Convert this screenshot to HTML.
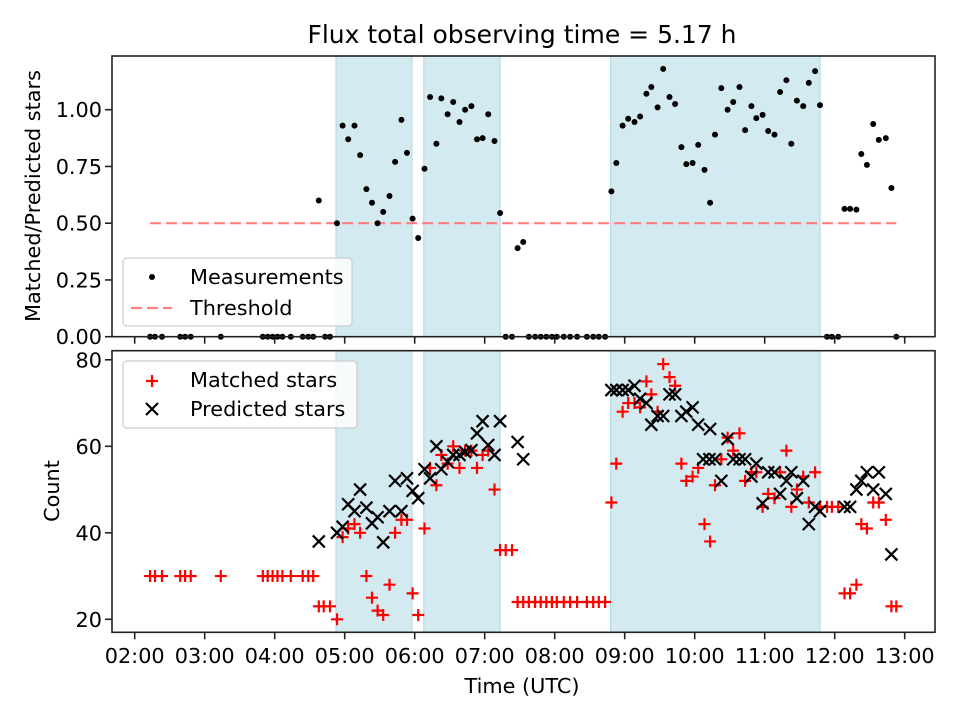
<!DOCTYPE html>
<html><head><meta charset="utf-8"><style>
body{margin:0;background:#fff}
svg{display:block;font-family:"DejaVu Sans","Liberation Sans",sans-serif}
</style></head><body>
<svg id="chart" width="960" height="720" xmlns="http://www.w3.org/2000/svg">
<text x="522" y="43" text-anchor="middle" font-size="25" fill="#000">Flux total observing time = 5.17 h</text>
<g id="topPanel"></g>
<g id="botPanel"></g>
<text x="522" y="693" text-anchor="middle" font-size="20.8">Time (UTC)</text>
<text transform="translate(40,196) rotate(-90)" text-anchor="middle" font-size="20.8">Matched/Predicted stars</text>
<text transform="translate(59,491) rotate(-90)" text-anchor="middle" font-size="20.8">Count</text>
</svg>
<script>
const shadeStart=[4.876,6.13,8.80];
const shadeEnd=[5.96,7.22,11.79];
const zeroTimes=[2.22,2.29,2.39,2.65,2.72,2.80,3.23,3.83,3.90,3.97,4.04,4.11,4.23,4.40,4.48,4.55,4.72,4.79,7.30,7.39,7.63,7.72,7.80,7.88,7.96,8.03,8.13,8.22,8.32,8.46,8.55,8.63,8.72,11.89,11.96,12.05,12.88];
const ratioTimes=[4.63,4.89,4.97,5.05,5.14,5.22,5.31,5.39,5.47,5.55,5.64,5.72,5.81,5.89,5.97,6.05,6.14,6.22,6.31,6.38,6.47,6.55,6.64,6.72,6.81,6.89,6.97,7.05,7.14,7.22,7.47,7.55,8.81,8.88,8.97,9.05,9.14,9.22,9.31,9.38,9.47,9.55,9.64,9.72,9.81,9.88,9.97,10.05,10.14,10.22,10.29,10.38,10.47,10.55,10.64,10.72,10.81,10.88,10.97,11.05,11.14,11.22,11.31,11.38,11.46,11.55,11.63,11.72,11.79,12.14,12.22,12.31,12.38,12.46,12.55,12.63,12.73,12.81];
const ratioValues=[0.60,0.50,0.93,0.87,0.93,0.80,0.65,0.59,0.50,0.55,0.62,0.77,0.955,0.81,0.52,0.435,0.74,1.056,0.85,1.05,0.98,1.034,0.946,1.00,1.016,0.87,0.875,0.98,0.862,0.545,0.39,0.417,0.64,0.765,0.93,0.96,0.946,0.97,1.07,1.10,1.01,1.18,1.056,1.025,0.835,0.76,0.765,0.845,0.735,0.59,0.89,1.095,1.00,1.034,1.10,0.91,1.016,0.963,0.977,0.906,0.89,1.078,1.13,0.85,1.04,1.016,1.118,1.17,1.02,0.563,0.563,0.56,0.805,0.757,0.937,0.867,0.875,0.655];
const threshold=0.5, thrStart=2.22, thrEnd=12.88;
const matchedTimes=[2.22,2.29,2.39,2.65,2.72,2.80,3.23,3.83,3.90,3.97,4.04,4.11,4.23,4.40,4.48,4.55,4.63,4.70,4.79,4.89,4.97,5.05,5.14,5.22,5.31,5.39,5.47,5.55,5.64,5.72,5.81,5.89,5.97,6.05,6.14,6.22,6.31,6.38,6.47,6.55,6.64,6.72,6.81,6.89,6.97,7.05,7.14,7.22,7.30,7.39,7.47,7.55,7.63,7.72,7.80,7.88,7.96,8.03,8.13,8.22,8.32,8.46,8.55,8.63,8.72,8.81,8.88,8.97,9.05,9.14,9.22,9.31,9.38,9.47,9.55,9.64,9.72,9.81,9.88,9.97,10.05,10.14,10.22,10.29,10.38,10.47,10.55,10.64,10.72,10.81,10.88,10.97,11.05,11.14,11.22,11.31,11.38,11.46,11.55,11.63,11.72,11.79,11.89,11.96,12.05,12.14,12.22,12.31,12.38,12.46,12.55,12.63,12.73,12.81,12.88];
const matchedValues=[30,30,30,30,30,30,30,30,30,30,30,30,30,30,30,30,23,23,23,20,39,41,42,40,30,25,22,21,28,40,43,43,26,21,41,55,51,58,56,60,55,59,59,55,58,59,50,36,36,36,24,24,24,24,24,24,24,24,24,24,24,24,24,24,24,47,56,68,70,70,69,75,72,68,79,76,74,56,52,53,55,42,38,51,57,62,59,63,52,54,54,46,49,48,54,59,46,50,53,47,54,46,46,46,46,26,26,28,42,41,47,47,43,23,23];
const predTimes=[4.63,4.89,4.97,5.05,5.14,5.22,5.31,5.39,5.47,5.55,5.64,5.72,5.81,5.89,5.97,6.05,6.14,6.22,6.31,6.38,6.47,6.55,6.64,6.72,6.81,6.89,6.97,7.05,7.14,7.22,7.47,7.55,8.81,8.88,8.97,9.05,9.14,9.22,9.31,9.38,9.47,9.55,9.64,9.72,9.81,9.88,9.97,10.05,10.12,10.21,10.22,10.29,10.38,10.47,10.55,10.64,10.72,10.81,10.88,10.97,11.05,11.14,11.22,11.31,11.38,11.46,11.55,11.63,11.72,11.79,12.14,12.22,12.31,12.38,12.46,12.55,12.63,12.73,12.81];
const predValues=[38,40,41.4,46.6,45,50,45.8,42.2,43.6,37.8,45,52,45,52.6,49.7,48,54.7,52.6,60,54.7,56.4,58,58,58.7,59.1,63,65.8,60.3,58,65.8,61,57,73,73,73,73,74,71,70,65,67,67,72,72,67,68,69,65,57,57,64,57,52,61.7,57,57,57,53,56,46.8,54,54,49,52,54,48,52,42,46,45,46,46,50,52,54,50,54,49,35];
const xTickHours=[2,3,4,5,6,7,8,9,10,11,12,13];
const xTickLabels=["02:00","03:00","04:00","05:00","06:00","07:00","08:00","09:00","10:00","11:00","12:00","13:00"];
const topTicks=[0,0.25,0.5,0.75,1.0];
const topTickLabels=["0.00","0.25","0.50","0.75","1.00"];
const botTicks=[20,40,60,80];
const botTickLabels=["20","40","60","80"];

const NS="http://www.w3.org/2000/svg";
const L=112,R=935;
const xS=h=>134.7+(h-2)*70;
const PT={top:56,bot:336.7}, PB={top:350.7,bot:632.3};
const yT=v=>336.7-v*227;
const yB=v=>619.3-(v-20)*4.325;
function mk(p,tag,at){const e=document.createElementNS(NS,tag);for(const k in at)e.setAttribute(k,at[k]);p.appendChild(e);return e;}
function panel(g,P,yf,ticks,labels,name){
  for(let i=0;i<shadeStart.length;i++){
    const r=mk(g,'rect',{x:xS(shadeStart[i]),y:P.top,width:xS(shadeEnd[i])-xS(shadeStart[i]),height:P.bot-P.top,fill:'#d4eaf1',stroke:'#b5dbe6','stroke-width':1.2});
    
    
  }
  ticks.forEach((t,i)=>{
    const y=yf(t);
    mk(g,'line',{x1:L-7,x2:L,y1:y,y2:y,stroke:'#222','stroke-width':1.6});
    const tx=mk(g,'text',{x:L-10,y:y+7.5,'text-anchor':'end','font-size':20.8});
    tx.textContent=labels[i];
    
    
  });
  xTickHours.forEach(h=>{mk(g,'line',{x1:xS(h),x2:xS(h),y1:P.bot,y2:P.bot+7,stroke:'#222','stroke-width':1.6});});
}
const topG=document.getElementById('topPanel'), botG=document.getElementById('botPanel');
panel(topG,PT,yT,topTicks,topTickLabels,'ratio');
panel(botG,PB,yB,botTicks,botTickLabels,'count');
const thr=mk(topG,'line',{x1:xS(thrStart),x2:xS(thrEnd),y1:yT(threshold),y2:yT(threshold),stroke:'#ff8080','stroke-width':2.2,'stroke-dasharray':'11,5'});


zeroTimes.forEach(t=>{const c=mk(topG,'circle',{cx:xS(t),cy:yT(0),r:3,fill:'#000'});

});
ratioTimes.forEach((t,i)=>{const c=mk(topG,'circle',{cx:xS(t),cy:yT(ratioValues[i]),r:3,fill:'#000'});

});
function plus(g,x,y){return mk(g,'path',{d:`M${x-6} ${y}H${x+6}M${x} ${y-6}V${y+6}`,stroke:'#f00','stroke-width':2.2,fill:'none'});}
function cross(g,x,y){return mk(g,'path',{d:`M${x-6} ${y-6}L${x+6} ${y+6}M${x-6} ${y+6}L${x+6} ${y-6}`,stroke:'#000','stroke-width':2.2,fill:'none'});}
matchedTimes.forEach((t,i)=>{const p=plus(botG,xS(t),yB(matchedValues[i]));

});
predTimes.forEach((t,i)=>{const p=cross(botG,xS(t),yB(predValues[i]));

});
[[topG,PT],[botG,PB]].forEach(([g,P])=>{mk(g,'rect',{x:L,y:P.top,width:R-L,height:P.bot-P.top,fill:'none',stroke:'#222','stroke-width':1.6});});
xTickHours.forEach((h,i)=>{const t=mk(botG,'text',{x:xS(h),y:663,'text-anchor':'middle','font-size':20.8});t.textContent=xTickLabels[i];

});
const lg1=mk(topG,'g',{});


mk(lg1,'rect',{x:123,y:258,width:229,height:68,rx:4,fill:'rgba(255,255,255,0.8)',stroke:'#ccc','stroke-width':1.2});
mk(lg1,'circle',{cx:152,cy:277,r:3,fill:'#000'});
let t1=mk(lg1,'text',{x:190,y:284,'font-size':20.8});t1.textContent='Measurements';
mk(lg1,'line',{x1:131,x2:172,y1:308,y2:308,stroke:'#ff8080','stroke-width':2.2,'stroke-dasharray':'11,5'});
let t2=mk(lg1,'text',{x:190,y:315,'font-size':20.8});t2.textContent='Threshold';
const lg2=mk(botG,'g',{});


mk(lg2,'rect',{x:123,y:361,width:234,height:67,rx:4,fill:'rgba(255,255,255,0.8)',stroke:'#ccc','stroke-width':1.2});
plus(lg2,152,381);
let t3=mk(lg2,'text',{x:190,y:387,'font-size':20.8});t3.textContent='Matched stars';
cross(lg2,152,409);
let t4=mk(lg2,'text',{x:190,y:416,'font-size':20.8});t4.textContent='Predicted stars';
</script>
</body></html>
